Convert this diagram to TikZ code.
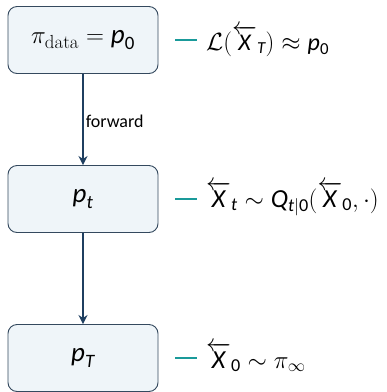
\documentclass[tikz,border=0pt]{standalone}
\usepackage{amsmath}
\usepackage{fontspec}
\setsansfont{Carlito}
\usetikzlibrary{arrows.meta,positioning}
\definecolor{boxFill}{HTML}{EFF5F9}
\definecolor{boxLine}{HTML}{34495E}
\definecolor{flowBlue}{HTML}{1F3F60}
\definecolor{tealLine}{HTML}{1A9A9A}
\newcommand{\sv}[1]{\text{\sffamily\itshape #1}}
\newcommand{\su}[1]{\text{\sffamily #1}}

\begin{document}
\begin{tikzpicture}[x=1pt,y=1pt,
    state/.style={draw=boxLine,fill=boxFill,rounded corners=9pt,minimum width=150pt,minimum height=67pt,line width=0.9pt,font=\fontsize{27}{30}\selectfont},
    law/.style={anchor=base west,inner sep=0pt,font=\fontsize{26}{30}\selectfont},
    flow/.style={draw=flowBlue,line width=1.6pt,-{Stealth[length=9pt,width=9pt]}},
    tick/.style={draw=tealLine,line width=2pt}]
  \useasboundingbox (0,0) rectangle (387,-392);
  \node[state] (p0) at (83,-40) {$\pi_{\mathrm{data}} = \sv{p}_{\su{0}}$};
  \node[state] (pt) at (83,-199) {$\sv{p}_{\sv{t}}$};
  \node[state] (pT) at (83,-358) {$\sv{p}_{\sv{T}}$};
  \node[law,font=\fontsize{24}{28}\selectfont] (l0) at (206,-50) {$\mathcal{L}(\overleftarrow{\sv{X}}_{\sv{T}}) \approx \sv{p}_{\su{0}}$};
  \node[law] (lt) at (206,-207) {$\overleftarrow{\sv{X}}_{\sv{t}} \sim \sv{Q}_{\sv{t}|\su{0}}(\overleftarrow{\sv{X}}_{\su{0}}, \cdot)$};
  \node[law] (lT) at (206,-368) {$\overleftarrow{\sv{X}}_{\su{0}} \sim \pi_\infty$};
  \draw[flow] (p0) -- node[right,inner sep=2pt,yshift=-2pt,font=\sffamily\fontsize{18}{20}\selectfont] {forward} (pt);
  \draw[flow] (pt) -- (pT);
  \draw[tick] ([xshift=17pt]p0.east) -- ([xshift=39pt]p0.east);
  \draw[tick] ([xshift=17pt]pt.east) -- ([xshift=39pt]pt.east);
  \draw[tick] ([xshift=17pt]pT.east) -- ([xshift=39pt]pT.east);
\end{tikzpicture}
\end{document}
